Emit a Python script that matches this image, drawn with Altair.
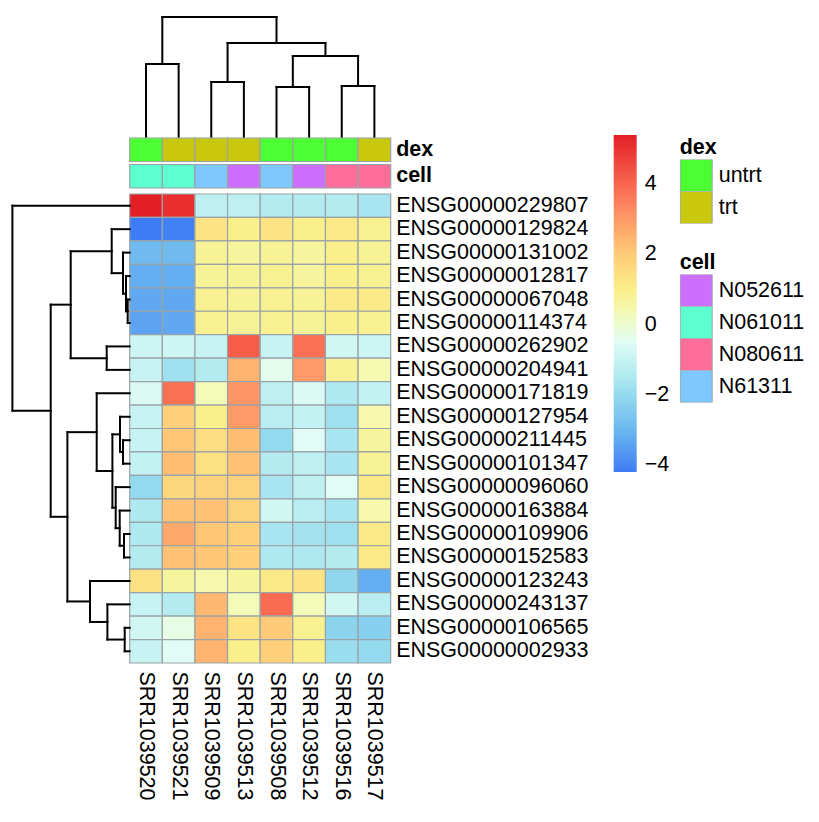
import altair as alt
import pandas as pd

FONT = "Liberation Sans"
FS = 21.5

cols = ["SRR1039520", "SRR1039521", "SRR1039509", "SRR1039513",
        "SRR1039508", "SRR1039512", "SRR1039516", "SRR1039517"]
rows = ["ENSG00000229807", "ENSG00000129824", "ENSG00000131002", "ENSG00000012817",
        "ENSG00000067048", "ENSG00000114374", "ENSG00000262902", "ENSG00000204941",
        "ENSG00000171819", "ENSG00000127954", "ENSG00000211445", "ENSG00000101347",
        "ENSG00000096060", "ENSG00000163884", "ENSG00000109906", "ENSG00000152583",
        "ENSG00000123243", "ENSG00000243137", "ENSG00000106565", "ENSG00000002933"]

values = [
    [5.4, 5.1, -1.2, -1.2, -1.4, -1.4, -1.4, -1.6],
    [-4.2, -4.1, 1.3, 1.0, 1.3, 1.0, 1.2, 0.9],
    [-2.9, -2.9, 0.8, 0.7, 0.8, 0.7, 1.0, 0.8],
    [-3.2, -3.2, 0.8, 0.8, 0.9, 0.7, 1.0, 0.9],
    [-3.3, -3.3, 0.9, 0.8, 0.9, 0.8, 1.1, 1.1],
    [-3.4, -3.3, 0.9, 0.8, 0.9, 0.8, 1.0, 0.9],
    [-0.9, -0.9, -1.0, 4.2, -1.0, 3.8, -0.8, -0.9],
    [-1.0, -1.8, -1.4, 2.5, -0.4, 3.0, 0.9, 0.4],
    [-0.6, 3.8, 0.3, 3.1, -1.2, -0.6, -1.5, -1.1],
    [-1.0, 1.9, 1.0, 3.0, -1.3, -1.1, -1.8, 0.5],
    [-1.0, 2.1, 1.5, 2.3, -2.0, -0.5, -1.6, 0.7],
    [-1.1, 2.3, 1.4, 2.2, -1.4, -1.2, -1.6, 0.8],
    [-2.0, 1.7, 1.8, 1.8, -1.6, -1.2, -0.5, 1.2],
    [-1.5, 2.2, 2.2, 1.8, -0.8, -1.3, -1.6, 0.5],
    [-1.5, 2.7, 2.1, 1.9, -1.6, -1.7, -1.8, 1.2],
    [-1.4, 2.2, 2.1, 1.9, -1.5, -1.5, -1.4, 1.2],
    [1.4, 0.7, 0.5, 0.7, 1.2, 1.3, -2.1, -3.2],
    [-1.0, -1.4, 2.4, 0.3, 3.9, 0.3, -0.8, -1.3],
    [-0.8, -0.3, 2.5, 1.3, 2.0, 0.9, -2.2, -2.3],
    [-1.0, -0.5, 2.5, 1.0, 1.9, 1.0, -1.9, -2.0],
]

dex = ["untrt", "trt", "trt", "trt", "untrt", "untrt", "untrt", "trt"]
cell = ["N061011", "N061011", "N61311", "N052611", "N61311", "N052611", "N080611", "N080611"]
dex_levels = ["untrt", "trt"]
dex_colors = ["#4CFF33", "#C9C70E"]
cell_levels = ["N052611", "N061011", "N080611", "N61311"]
cell_colors = ["#CC6FFF", "#5EFFCF", "#FF6E9B", "#7EC8FF"]

color_domain = [-4.2, -3.0, -2.0, -1.2, -0.5, 0.3, 1.0, 2.0, 3.0, 4.0, 5.4]
color_range = ["#3D7CF5", "#6BB8F0", "#94DAEE", "#BEF0F2", "#E0FCF4", "#F4FBB8",
               "#FAEF8A", "#FFCB78", "#FF9A68", "#F96650", "#E31F26"]

# dendrogram merges: (node, left, right, merge height); ints are leaf indices
col_merges = [("a", 0, 1, 73), ("b", 2, 3, 55), ("c", 4, 5, 50), ("d", 6, 7, 51),
              ("e", "c", "d", 81), ("f", "b", "e", 94), ("root", "a", "f", 120)]
row_merges = [("F", 4, 5, 2), ("E", 3, "F", 3.7), ("D", 2, "E", 6.7), ("C", 1, "D", 18),
              ("G", 6, 7, 23), ("B", "C", "G", 59),
              ("L", 10, 11, 6.7), ("K", 9, "L", 9.7), ("O", 14, 15, 5.7), ("N", 13, "O", 10),
              ("M", 12, "N", 14), ("J", "K", "M", 17.3), ("I", 8, "J", 33),
              ("R", 18, 19, 5), ("Q", 17, "R", 22.3), ("P", 16, "Q", 39.7),
              ("H", "I", "P", 62.3), ("A", "B", "H", 79), ("root", 0, "A", 117.3)]

BORDER = "#9AA3A6"
HEAT_W, HEAT_H = 261, 469


def dendro_segments(merges):
    pos, hgt, segs = {}, {}, []

    def p(n):
        return n + 0.5 if isinstance(n, int) else pos[n]

    def h(n):
        return 0.0 if isinstance(n, int) else hgt[n]

    for name, a, b, ht in merges:
        pa, pb = p(a), p(b)
        segs.append(dict(p1=pa, p2=pa, h1=h(a), h2=ht))
        segs.append(dict(p1=pb, p2=pb, h1=h(b), h2=ht))
        segs.append(dict(p1=pa, p2=pb, h1=ht, h2=ht))
        pos[name] = (pa + pb) / 2
        hgt[name] = ht
    return pd.DataFrame(segs)


heat_df = pd.DataFrame([{"row": r, "col": c, "value": values[i][j]}
                        for i, r in enumerate(rows) for j, c in enumerate(cols)])

heat = alt.Chart(heat_df).mark_rect(stroke=BORDER, strokeWidth=1.2).encode(
    x=alt.X("col:N", sort=cols, scale=alt.Scale(padding=0),
            axis=alt.Axis(orient="bottom", title=None, ticks=False, domain=False,
                          labelAngle=90, labelFontSize=FS, labelPadding=8, labelFont=FONT,
                          labelColor="black", labelLimit=0)),
    y=alt.Y("row:N", sort=rows, scale=alt.Scale(padding=0),
            axis=alt.Axis(orient="right", title=None, ticks=False, domain=False,
                          labelFontSize=FS, labelPadding=5, labelFont=FONT,
                          labelColor="black", labelLimit=0)),
    color=alt.Color("value:Q",
                    scale=alt.Scale(domain=color_domain, range=color_range, interpolate="rgb"),
                    legend=alt.Legend(orient="none", legendX=484, legendY=-59, title=None,
                                      gradientLength=337, gradientThickness=23,
                                      values=[-4, -2, 0, 2, 4], labelFontSize=FS,
                                      labelOffset=8, labelFont=FONT, labelColor="black",
                                      gradientStrokeWidth=0, padding=0, direction="vertical")),
)

rdend = alt.Chart(dendro_segments(row_merges)).mark_rule(
    color="black", strokeWidth=2, strokeCap="square").encode(
    x=alt.X("h1:Q", scale=alt.Scale(domain=[-HEAT_W, 0], reverse=True, nice=False, zero=False),
            axis=None),
    x2="h2:Q",
    y=alt.Y("p1:Q", scale=alt.Scale(domain=[0, len(rows)], reverse=True, nice=False, zero=False),
            axis=None),
    y2="p2:Q",
)

main = alt.layer(heat, rdend).resolve_scale(x="independent", y="independent").properties(
    width=HEAT_W, height=HEAT_H)

xband = alt.X("col:N", sort=cols, scale=alt.Scale(padding=0), axis=None)
ytrack = alt.Y("track:N", sort=["dex", "cell"],
               scale=alt.Scale(paddingInner=0.113, paddingOuter=0.132, align=0.14),
               axis=alt.Axis(orient="right", title=None, ticks=False, domain=False,
                             labelFontSize=FS, labelFontWeight="bold", labelPadding=5,
                             labelFont=FONT, labelColor="black"))

sym_legend = dict(orient="none", symbolType="square", symbolSize=1024,
                  symbolStrokeColor=BORDER, symbolStrokeWidth=1, rowPadding=0,
                  clipHeight=32,
                  labelOffset=6, labelFontSize=FS, labelFont=FONT, labelColor="black",
                  titleFontSize=FS, titleFont=FONT, titleFontWeight="bold",
                  titleColor="black", titlePadding=1, padding=0, direction="vertical")

dex_df = pd.DataFrame({"col": cols, "track": "dex", "dex": dex})
cell_df = pd.DataFrame({"col": cols, "track": "cell", "cell": cell})

dex_layer = alt.Chart(dex_df).mark_rect(stroke=BORDER, strokeWidth=1.2).encode(
    x=xband, y=ytrack,
    color=alt.Color("dex:N", scale=alt.Scale(domain=dex_levels, range=dex_colors),
                    legend=alt.Legend(title="dex", legendX=550, legendY=0, **sym_legend)),
)
cell_layer = alt.Chart(cell_df).mark_rect(stroke=BORDER, strokeWidth=1.2).encode(
    x=xband, y=ytrack,
    fill=alt.Fill("cell:N", scale=alt.Scale(domain=cell_levels, range=cell_colors),
                  legend=alt.Legend(title="cell", legendX=550, legendY=115, **sym_legend)),
)
ann = alt.layer(dex_layer, cell_layer).properties(width=HEAT_W, height=57)

cdend = alt.Chart(dendro_segments(col_merges)).mark_rule(
    color="black", strokeWidth=2, strokeCap="square").encode(
    x=alt.X("p1:Q", scale=alt.Scale(domain=[0, len(cols)], nice=False, zero=False), axis=None),
    x2="p2:Q",
    y=alt.Y("h1:Q", scale=alt.Scale(domain=[0, 129], nice=False), axis=None),
    y2="h2:Q",
).properties(width=HEAT_W, height=129)

chart = alt.vconcat(cdend, ann, main, spacing=0, bounds="flush").resolve_scale(
    color="independent", fill="independent"
).properties(padding={"left": 2.7, "top": 0, "right": 0, "bottom": 0}).configure_view(stroke=None)

chart.save("out.html", embed_options={"renderer": "svg", "actions": False})
